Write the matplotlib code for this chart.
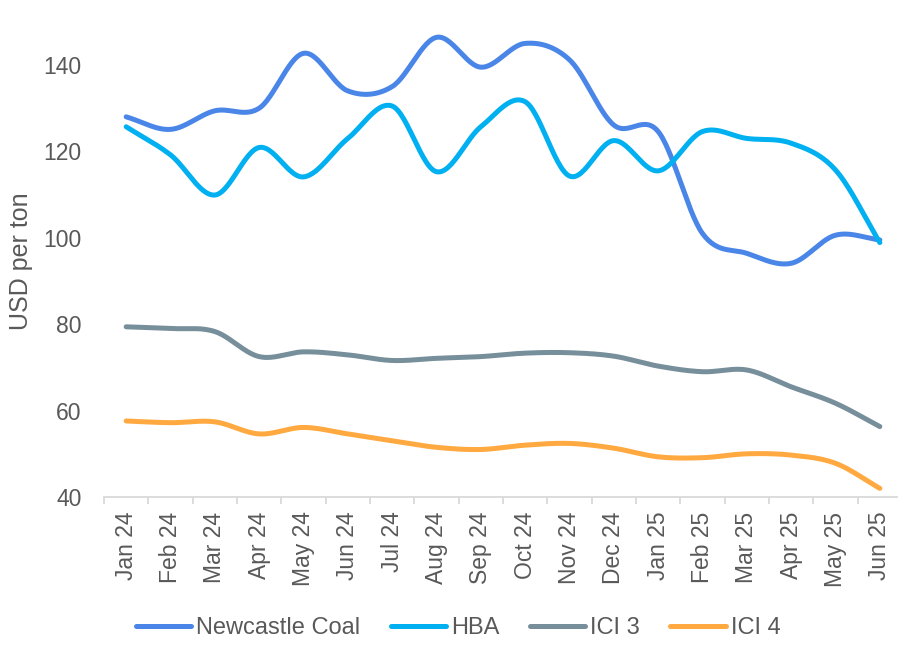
import matplotlib
matplotlib.use("Agg")
import matplotlib.pyplot as plt
import numpy as np

months = ["Jan 24", "Feb 24", "Mar 24", "Apr 24", "May 24", "Jun 24",
          "Jul 24", "Aug 24", "Sep 24", "Oct 24", "Nov 24", "Dec 24",
          "Jan 25", "Feb 25", "Mar 25", "Apr 25", "May 25", "Jun 25"]

newcastle = [128.0, 125.1, 129.4, 130.0, 142.7, 134.0, 135.0, 146.4, 139.5,
             145.0, 141.2, 126.1, 124.6, 101.0, 96.4, 94.1, 100.6, 99.5]
hba = [125.7, 119.2, 109.9, 120.9, 114.1, 123.0, 130.5, 115.3, 125.7,
       131.5, 114.3, 122.5, 115.5, 124.6, 123.0, 121.9, 115.7, 98.9]
ici3 = [79.4, 79.0, 78.3, 72.5, 73.6, 72.9, 71.6, 72.1, 72.5,
        73.3, 73.4, 72.6, 70.3, 69.0, 69.4, 65.5, 61.7, 56.3]
ici4 = [57.6, 57.2, 57.4, 54.6, 56.1, 54.6, 53.0, 51.5, 51.0,
        52.0, 52.4, 51.3, 49.3, 49.1, 50.0, 49.7, 47.8, 42.0]

series = [("Newcastle Coal", newcastle, "#4a86e8"),
          ("HBA", hba, "#00b0f0"),
          ("ICI 3", ici3, "#778f9b"),
          ("ICI 4", ici4, "#ffa940")]


def smooth(y, steps=30):
    # catmull-rom through the points, like excel's smoothed line
    y = np.asarray(y, dtype=float)
    x = np.arange(len(y), dtype=float)
    px = np.concatenate([[2 * x[0] - x[1]], x, [2 * x[-1] - x[-2]]])
    py = np.concatenate([[2 * y[0] - y[1]], y, [2 * y[-1] - y[-2]]])
    xs, ys = [], []
    t = np.linspace(0, 1, steps, endpoint=False)
    for i in range(1, len(px) - 2):
        for arr, out in ((px, xs), (py, ys)):
            p0, p1, p2, p3 = arr[i - 1], arr[i], arr[i + 1], arr[i + 2]
            out.append(0.5 * (2 * p1 + (-p0 + p2) * t
                              + (2 * p0 - 5 * p1 + 4 * p2 - p3) * t ** 2
                              + (-p0 + 3 * p1 - 3 * p2 + p3) * t ** 3))
    xs.append([x[-1]])
    ys.append([y[-1]])
    return np.concatenate(xs), np.concatenate(ys)


plt.rcParams['font.family'] = ['Liberation Sans', 'DejaVu Sans']
text_col = "#595959"
axis_col = "#d9d9d9"

fig = plt.figure(figsize=(8.98, 6.45), dpi=100)
ax = fig.add_axes([104 / 898, 148 / 645, 798 / 898, 475.2 / 645])

for name, vals, col in series:
    sx, sy = smooth(vals)
    ax.plot(sx, sy, color=col, lw=3.6, solid_capstyle="round", label=name)

n = len(months)
ax.set_xlim(-0.5, n - 0.5)
ax.set_ylim(40, 150)
ax.set_yticks(range(40, 141, 20))
ax.set_xticks(range(n))
ax.set_xticklabels(months, rotation=90)
ax.set_xticks(np.arange(-0.5, n, 1.0), minor=True)

for s in ["top", "right", "left"]:
    ax.spines[s].set_visible(False)
ax.spines["bottom"].set_color(axis_col)
ax.spines["bottom"].set_linewidth(1.3)

ax.tick_params(axis="x", which="major", length=0, pad=10.5,
               labelsize=16.5, labelcolor=text_col)
ax.tick_params(axis="x", which="minor", length=5, width=1.3, color=axis_col)
ax.tick_params(axis="y", length=0, pad=16, labelsize=16.5, labelcolor=text_col)

fig.text(21 / 898, 1 - 261 / 645, "USD per ton", rotation=90,
         ha="center", va="center", fontsize=18, color=text_col)

fig.legend(loc="center", bbox_to_anchor=(0.51, 1 - 628 / 645), ncol=4,
           frameon=False, fontsize=17, labelcolor=text_col,
           handlelength=2.35, handletextpad=0.2, columnspacing=1.3)

fig.savefig("out.png", dpi=100)
